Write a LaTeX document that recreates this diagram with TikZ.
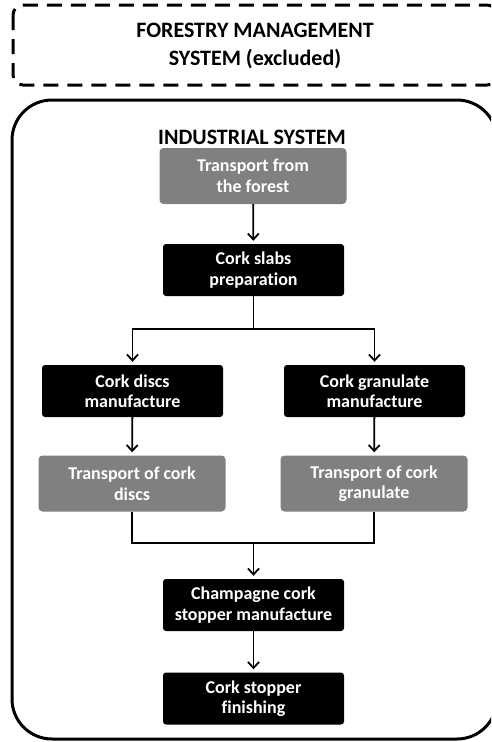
\documentclass[tikz,border=0pt]{standalone}
\usepackage{fontspec}
\setmainfont{Carlito}[Ligatures={NoCommon}]
\usetikzlibrary{arrows.meta}

\begin{document}
\begin{tikzpicture}[x=1pt, y=-1pt,
	every node/.style={font=\bfseries\fontsize{18}{20.5}\selectfont, align=center, text=white, inner sep=0pt},
	blackbox/.style={fill=black, rounded corners=3pt, minimum width=181pt, minimum height=52pt},
	greybox/.style={fill=gray, rounded corners=4pt, minimum width=187pt, minimum height=56pt},
	title/.style={text=black, font=\bfseries\fontsize{22}{28}\selectfont},
	flow/.style={line width=1.8pt, shorten >=3pt, -{Straight Barb[length=6pt,width=11pt,line width=1.8pt]}}]
	\useasboundingbox (0,0) rectangle (491,742);
	\clip (0,0) rectangle (491,742);
	% system boundaries
	\draw[line width=3pt, dash pattern=on 15pt off 9pt, rounded corners=10pt] (13,5) rectangle (497,85);
	\draw[line width=3pt, rounded corners=40pt] (12,100) rectangle (497,739);
	\node[title] (forestry) at (255,46) {FORESTRY MANAGEMENT\\SYSTEM (excluded)};
	\node[title] (industrial) at (252,137) {INDUSTRIAL SYSTEM};
	% process steps
	\node[greybox] (forest) at (253,176) {Transport from\\the forest};
	\node[blackbox] (slabs) at (253.5,270) {Cork slabs\\preparation};
	\node[blackbox] (discs) at (132.5,391) {Cork discs\\manufacture};
	\node[blackbox] (granulate) at (374.5,391) {Cork granulate\\manufacture};
	\node[greybox] (tdiscs) at (132,483.5) {Transport of cork\\discs};
	\node[greybox] (tgranulate) at (374,483.5) {Transport of cork\\granulate};
	\node[blackbox] (champagne) at (253.5,605) {Champagne cork\\stopper manufacture};
	\node[blackbox] (finishing) at (253.5,698.5) {Cork stopper\\finishing};
	\coordinate (split) at (253.5,329);
	\coordinate (merge) at (253.5,543);
	% flows
	\draw[flow] (forest) -- (slabs);
	\draw[line width=1.8pt] (slabs) -- (split);
	\draw[flow] (split) -| (discs);
	\draw[flow] (split) -| (granulate);
	\draw[flow] (discs) -- (tdiscs);
	\draw[flow] (granulate) -- (tgranulate);
	\draw[line width=1.8pt] (tdiscs) |- (merge) -| (tgranulate);
	\draw[flow] (merge) -- (champagne);
	\draw[flow] (champagne) -- (finishing);
\end{tikzpicture}
\end{document}
